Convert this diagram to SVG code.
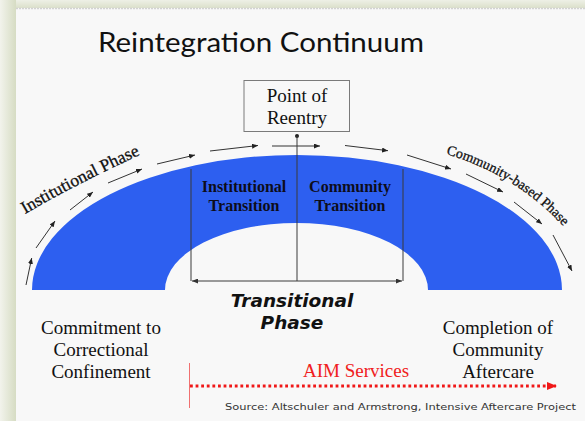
<svg xmlns="http://www.w3.org/2000/svg" width="585" height="421" viewBox="0 0 585 421">
  <style>
    .serif { font-family: "Liberation Serif", "Times New Roman", serif; fill: #111; }
    .lbl { font-size: 19px; text-anchor: middle; }
    .bold { font-size: 16px; font-weight: bold; text-anchor: middle; fill: #0d0d1a; }
    .arc-label { stroke: #111; stroke-width: 0.3; }
    .guide { stroke: #3a3a3a; stroke-width: 1; fill: none; }
    .flow { stroke: #333; stroke-width: 1; fill: none; marker-end: url(#head); }
  </style>
  <defs>
    <linearGradient id="edgeL" x1="0" y1="0" x2="1" y2="0">
      <stop offset="0" stop-color="#f2f3ec"/>
      <stop offset="1" stop-color="#d6dcc3"/>
    </linearGradient>
    <linearGradient id="edgeT" x1="0" y1="0" x2="0" y2="1">
      <stop offset="0" stop-color="#eef0e6"/>
      <stop offset="1" stop-color="#dbe0ca"/>
    </linearGradient>
    <marker id="head" viewBox="0 0 6 5" refX="6" refY="2.5" markerWidth="6" markerHeight="5" markerUnits="userSpaceOnUse" orient="auto">
      <path d="M0,0 L6,2.5 L0,5 Z" fill="#222"/>
    </marker>
    <marker id="tip" viewBox="0 0 6 5" refX="6" refY="2.5" markerWidth="6" markerHeight="5" markerUnits="userSpaceOnUse" orient="auto-start-reverse">
      <path d="M0,0 L6,2.5 L0,5 Z" fill="#333"/>
    </marker>
    <marker id="redHead" viewBox="0 0 10 8" refX="9" refY="4" markerWidth="10" markerHeight="8" markerUnits="userSpaceOnUse" orient="auto">
      <path d="M0,0 L10,4 L0,8 Z" fill="#f01818"/>
    </marker>
    <!-- baselines for the two curved phase labels -->
    <path id="instPath" d="M25,214 Q80,182 142,154 L152,149"/>
    <path id="commPath" d="M446,154 Q517,175 565,228 L575,240"/>
  </defs>

  <!-- slide surface and its shaded frame -->
  <g id="background">
    <rect x="0" y="0" width="585" height="421" fill="#f8f8f8"/>
    <rect x="0" y="0" width="585" height="8" fill="url(#edgeT)"/>
    <rect x="0" y="0" width="16" height="421" fill="url(#edgeL)"/>
    <line x1="16" y1="8.5" x2="585" y2="8.5" stroke="#d2d2d2" stroke-width="1.5" stroke-dasharray="2,1"/>
  </g>

  <g id="title">
    <text x="98" y="52" font-family="Lato, 'Open Sans', sans-serif" font-size="26" fill="#111" textLength="326" lengthAdjust="spacingAndGlyphs">Reintegration Continuum</text>
  </g>

  <!-- blue continuum arch -->
  <g id="arch">
    <path d="M32,290 A265,135 0 0 1 562,290 L428,290 A131.5,67 0 0 0 165,290 Z" fill="#2d5ff0"/>
  </g>

  <g id="node-reentry">
    <rect x="244" y="80.5" width="105.5" height="51" fill="#f8f8f8" stroke="#7a7a7a" stroke-width="1"/>
    <text class="serif lbl" x="297" y="102">Point of</text>
    <text class="serif lbl" x="297" y="124">Reentry</text>
  </g>

  <g id="node-institutional-transition">
    <text class="serif bold" x="244" y="191.5">Institutional</text>
    <text class="serif bold" x="244" y="211">Transition</text>
  </g>

  <g id="node-community-transition">
    <text class="serif bold" x="350" y="191.5">Community</text>
    <text class="serif bold" x="350" y="211">Transition</text>
  </g>

  <g id="node-institutional-phase">
    <text class="serif arc-label" font-size="17.5"><textPath href="#instPath">Institutional Phase</textPath></text>
  </g>

  <g id="node-community-phase">
    <text class="serif arc-label" font-size="14"><textPath href="#commPath">Community-based Phase</textPath></text>
  </g>

  <g id="node-transitional-phase">
    <text x="292" y="306.5" font-family="'DejaVu Sans', Verdana, sans-serif" font-weight="bold" font-style="italic" font-size="18.5" fill="#111" text-anchor="middle">Transitional</text>
    <text x="292" y="328.5" font-family="'DejaVu Sans', Verdana, sans-serif" font-weight="bold" font-style="italic" font-size="18.5" fill="#111" text-anchor="middle">Phase</text>
  </g>

  <g id="node-commitment">
    <text class="serif lbl" x="101" y="334">Commitment to</text>
    <text class="serif lbl" x="101" y="356">Correctional</text>
    <text class="serif lbl" x="101" y="378">Confinement</text>
  </g>

  <g id="node-completion">
    <text class="serif lbl" x="498" y="334">Completion of</text>
    <text class="serif lbl" x="498" y="356">Community</text>
    <text class="serif lbl" x="498" y="378">Aftercare</text>
  </g>

  <g id="node-aim">
    <text x="356" y="377" font-family="'Liberation Serif', 'Times New Roman', serif" font-size="19" fill="#f02020" text-anchor="middle">AIM Services</text>
  </g>

  <g id="source">
    <text x="225" y="410" font-family="'DejaVu Sans', Verdana, sans-serif" font-size="9.5" fill="#333" textLength="351" lengthAdjust="spacingAndGlyphs">Source: Altschuler and Armstrong, Intensive Aftercare Project</text>
  </g>

  <g id="connectors">
    <!-- flow arrows around the outer rim -->
    <line class="flow" x1="26" y1="285" x2="31.7" y2="258"/>
    <line class="flow" x1="36" y1="248" x2="55" y2="221"/>
    <line class="flow" x1="70" y1="210" x2="93" y2="192"/>
    <line class="flow" x1="108" y1="183" x2="142" y2="169"/>
    <line class="flow" x1="157" y1="164" x2="195" y2="155"/>
    <line class="flow" x1="210" y1="151" x2="258" y2="145.5"/>
    <line class="flow" x1="272" y1="146" x2="320" y2="146"/>
    <line class="flow" x1="345" y1="145.5" x2="388" y2="150.7"/>
    <line class="flow" x1="407" y1="155" x2="451" y2="169"/>
    <line class="flow" x1="466" y1="174" x2="503" y2="192"/>
    <line class="flow" x1="514" y1="202" x2="542" y2="224"/>
    <line class="flow" x1="553" y1="235" x2="572" y2="271"/>

    <!-- reentry marker and transition brackets -->
    <circle cx="297" cy="136" r="2" fill="#222"/>
    <line class="guide" x1="297" y1="136" x2="297" y2="281"/>
    <line class="guide" x1="191" y1="169" x2="191" y2="281"/>
    <line class="guide" x1="403" y1="169" x2="403" y2="281"/>
    <line class="guide" x1="192" y1="281" x2="402" y2="281" marker-start="url(#tip)" marker-end="url(#tip)"/>

    <!-- AIM services span -->
    <line x1="189.5" y1="363" x2="189.5" y2="408" stroke="#f07070" stroke-width="1"/>
    <line x1="190" y1="386" x2="556" y2="386" stroke="#f01818" stroke-width="3" stroke-dasharray="2.8,2.8" marker-end="url(#redHead)"/>
  </g>
</svg>
